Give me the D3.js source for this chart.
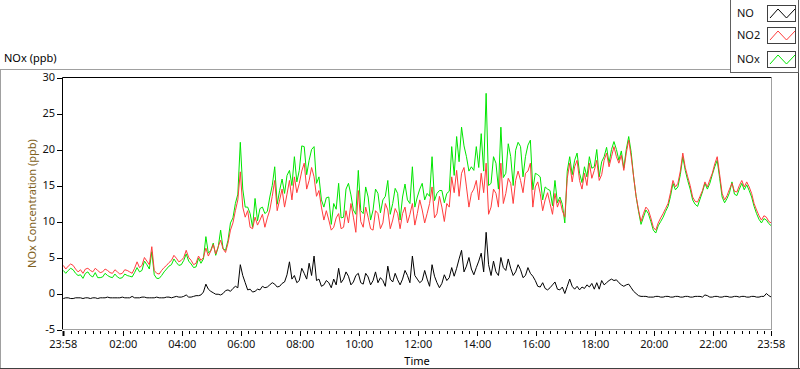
<!DOCTYPE html>
<html>
<head>
<meta charset="utf-8">
<script src="https://cdn.jsdelivr.net/npm/d3@7"></script>
<style>
  body { margin: 0; background: #fff; }
  svg { display: block; font-family: "Noto Sans", sans-serif; font-size: 11px; }
</style>
</head>
<body>
<div id="chart"></div>
<script>
// readings every 10 minutes from 23:58, plus the mid-interval readings (at +5 min)
const stepMinutes = 10;
const seriesNames = ["NO", "NO2", "NOx"];
const seriesColors = ["#000000", "#ff3c3c", "#00e600"];

const no = [
  -0.7, -0.6, -0.7, -0.6, -0.7, -0.6, -0.6, -0.7, -0.6, -0.5,
  -0.6, -0.6, -0.5, -0.6, -0.4, -0.6, -0.5, -0.6, -0.6, -0.5,
  -0.6, -0.5, -0.6, -0.4, -0.5, -0.2, -0.5, -0.3, -0.2, 1.3,
  0.3, -0.1, -0.2, 0.4, 0.3, 1.0, 4.0, 1.5, 0.6, 0.3,
  0.5, 0.8, 1.2, 1.3, 1.0, 1.6, 4.4, 2.5, 1.8, 2.8,
  4.2, 5.2, 2.0, 1.2, 1.5, 2.0, 3.5, 2.0, 2.4, 1.6,
  2.8, 1.3, 2.3, 1.8, 1.5, 1.8, 3.8, 1.6, 1.9, 2.0,
  2.5, 5.2, 2.0, 1.8, 2.0, 4.0, 1.5, 1.4, 1.8, 3.6,
  3.5, 6.0, 3.8, 3.4, 3.6, 5.6, 8.5, 2.5, 3.0, 5.0,
  3.2, 3.5, 3.0, 3.3, 2.5, 2.8, 1.8, 0.9, 0.7, 0.8,
  1.6, 0.5, 0.0, 2.0, 0.6, 0.5, 0.7, 0.9, 0.6, 0.6,
  1.2, 1.8, 1.8, 1.5, 1.0, 1.3, 0.3, -0.3, -0.4, -0.5,
  -0.5, -0.4, -0.5, -0.4, -0.5, -0.4, -0.5, -0.4, -0.5, -0.4,
  -0.5, -0.3, -0.5, -0.4, -0.5, -0.4, -0.5, -0.4, -0.4, -0.5,
  -0.4, -0.5, -0.4, 0.0, -0.5
];
const noMid = [
  -0.6, -0.7, -0.6, -0.6, -0.6, -0.7, -0.6, -0.6, -0.6, -0.6,
  -0.6, -0.6, -0.6, -0.6, -0.6, -0.6, -0.5, -0.6, -0.6, -0.6,
  -0.6, -0.5, -0.5, -0.5, -0.4, -0.5, -0.4, -0.3, 0.2, 0.6,
  0.1, -0.1, 0.0, 0.5, 0.7, 0.8, 2.5, 0.5, 0.2, 0.6,
  1.0, 0.9, 1.5, 0.9, 1.4, 2.6, 2.0, 1.5, 3.5, 2.0,
  2.5, 1.8, 1.0, 1.8, 0.8, 1.2, 1.5, 3.0, 1.2, 2.5,
  1.5, 2.8, 1.2, 3.0, 2.2, 1.0, 2.0, 2.8, 1.2, 3.2,
  1.5, 2.5, 1.5, 3.2, 1.0, 2.4, 0.8, 2.6, 2.2, 2.4,
  4.8, 3.0, 5.0, 2.6, 4.5, 3.0, 4.0, 4.5, 2.5, 3.6,
  4.8, 2.5, 4.0, 2.2, 3.6, 2.4, 1.0, 1.5, 0.5, 1.2,
  0.6, 0.9, 1.0, 1.0, 1.0, 0.9, 1.2, 1.4, 1.5, 1.8,
  1.5, 2.0, 1.9, 1.2, 1.2, 0.8, 0.0, -0.4, -0.4, -0.5,
  -0.4, -0.5, -0.4, -0.5, -0.4, -0.5, -0.4, -0.5, -0.4, -0.4,
  -0.2, -0.5, -0.4, -0.5, -0.4, -0.5, -0.4, -0.5, -0.4, -0.5,
  -0.4, -0.5, -0.4, -0.3
];

const no2 = [
  3.9, 3.8, 3.9, 3.0, 2.8, 3.5, 3.0, 3.2, 3.0, 3.2,
  2.8, 3.0, 2.8, 3.2, 2.8, 4.4, 3.9, 4.5, 6.5, 2.8,
  3.2, 3.9, 4.6, 4.9, 4.6, 6.0, 4.6, 4.2, 4.6, 6.3,
  5.9, 5.5, 7.4, 5.7, 8.8, 11.5, 16.9, 10.6, 9.2, 10.6,
  10.2, 9.2, 11.6, 15.7, 13.0, 12.0, 15.7, 16.2, 15.3, 18.1,
  15.7, 16.2, 14.3, 10.2, 10.2, 9.2, 11.1, 9.2, 9.8, 10.6,
  14.3, 9.2, 10.6, 8.8, 11.1, 9.8, 11.6, 10.2, 11.1, 11.1,
  9.8, 12.5, 11.1, 11.6, 11.1, 14.8, 11.1, 12.0, 12.5, 16.2,
  17.1, 16.7, 14.8, 13.9, 15.7, 16.7, 18.1, 12.0, 13.9, 18.1,
  13.9, 15.3, 15.7, 15.7, 16.7, 18.1, 14.8, 13.9, 13.0, 12.5,
  13.9, 13.0, 10.6, 18.1, 17.6, 15.7, 16.7, 18.1, 17.1, 15.7,
  18.5, 17.6, 20.4, 18.1, 17.1, 21.3, 16.2, 11.6, 11.1, 11.6,
  9.2, 9.8, 11.1, 12.5, 15.7, 15.3, 19.5, 16.2, 13.4, 12.7,
  14.3, 14.8, 16.7, 19.0, 13.9, 13.6, 15.3, 14.1, 15.7, 15.5,
  13.9, 11.6, 10.2, 10.6, 9.8
];
const no2Mid = [
  3.4, 4.1, 3.4, 3.3, 3.4, 3.2, 3.5, 2.9, 3.4, 2.9,
  3.3, 2.7, 3.3, 3.0, 3.5, 3.6, 5.0, 4.0, 3.2, 2.7,
  3.6, 4.3, 5.3, 4.4, 5.0, 5.0, 4.0, 5.2, 5.0, 5.2,
  6.8, 6.5, 6.2, 7.0, 9.8, 13.0, 12.0, 11.5, 9.0, 9.5,
  11.0, 10.5, 13.5, 11.5, 14.5, 13.8, 13.0, 14.0, 17.0, 14.5,
  17.5, 13.5, 12.0, 11.5, 8.8, 10.5, 9.0, 11.5, 12.5, 8.5,
  10.0, 12.0, 9.0, 11.5, 9.0, 12.5, 9.0, 11.8, 9.0, 12.0,
  11.0, 9.5, 13.0, 9.8, 12.5, 10.5, 13.5, 10.0, 12.0, 14.0,
  13.5, 17.5, 12.0, 14.5, 13.0, 14.0, 11.0, 14.5, 12.0, 12.5,
  16.0, 12.5, 17.0, 14.0, 17.0, 12.0, 15.5, 11.5, 14.0, 11.0,
  12.0, 11.5, 16.0, 15.5, 18.5, 14.5, 15.0, 16.0, 18.5, 16.5,
  19.5, 19.0, 19.0, 19.2, 19.5, 19.0, 13.5, 10.0, 12.0, 10.5,
  8.8, 10.5, 11.8, 14.0, 14.8, 17.0, 17.5, 15.0, 12.8, 13.5,
  15.5, 15.8, 18.0, 16.5, 13.0, 14.5, 14.2, 15.0, 14.8, 14.8,
  12.5, 10.8, 10.8, 10.0
];

const nox = [
  3.2, 3.2, 3.3, 2.5, 2.1, 3.0, 2.3, 2.2, 2.3, 2.5,
  2.2, 2.3, 2.2, 2.5, 2.3, 3.6, 3.2, 4.0, 5.8, 2.1,
  2.5, 3.4, 4.0, 4.3, 4.0, 5.5, 4.1, 3.7, 4.2, 7.9,
  6.0, 5.3, 8.8, 6.0, 9.8, 12.5, 21.0, 12.0, 11.1, 13.2,
  11.8, 11.1, 13.4, 17.6, 14.3, 13.9, 17.1, 19.0, 17.1, 20.4,
  18.5, 20.4, 16.2, 12.0, 13.4, 12.5, 15.3, 10.6, 15.3, 11.6,
  17.1, 11.1, 13.4, 11.6, 13.9, 13.0, 15.7, 12.5, 13.9, 13.4,
  13.0, 17.6, 13.4, 15.3, 13.9, 19.0, 13.9, 14.3, 13.9, 20.4,
  21.8, 23.1, 19.0, 17.6, 20.4, 22.2, 27.8, 15.3, 18.1, 23.1,
  16.7, 19.0, 19.9, 20.4, 19.0, 21.3, 16.7, 16.2, 14.8, 14.3,
  15.7, 13.4, 9.8, 19.0, 18.5, 16.7, 17.6, 19.0, 17.6, 16.2,
  19.0, 18.1, 21.1, 18.5, 17.4, 21.8, 16.2, 11.4, 10.6, 11.1,
  8.8, 9.4, 10.6, 12.1, 15.3, 14.8, 19.0, 15.7, 13.0, 12.1,
  14.1, 14.5, 16.5, 18.5, 13.4, 13.2, 15.5, 13.6, 15.3, 15.1,
  13.4, 11.1, 9.8, 10.2, 9.4
];
const noxMid = [
  2.8, 3.5, 2.8, 2.6, 2.8, 2.5, 2.9, 2.2, 2.8, 2.3,
  2.7, 2.1, 2.7, 2.4, 2.9, 3.0, 4.5, 3.4, 2.6, 2.1,
  3.0, 3.8, 4.8, 3.9, 4.6, 4.5, 3.6, 4.9, 4.8, 5.6,
  7.0, 6.4, 6.2, 7.4, 10.5, 13.8, 14.5, 12.0, 9.2, 10.1,
  12.0, 11.4, 15.0, 12.4, 15.9, 16.4, 15.0, 15.5, 20.5, 16.5,
  20.0, 15.3, 13.0, 13.3, 9.6, 11.7, 10.5, 14.5, 13.7, 11.0,
  11.5, 14.8, 10.2, 14.5, 11.2, 13.5, 11.0, 14.6, 10.2, 15.2,
  12.5, 12.0, 14.5, 13.0, 13.5, 12.9, 14.3, 12.6, 14.2, 16.4,
  18.3, 20.5, 17.0, 17.1, 17.5, 17.0, 15.0, 19.0, 14.5, 16.1,
  20.8, 15.0, 21.0, 16.2, 20.6, 14.4, 16.5, 13.0, 14.5, 12.2,
  12.6, 12.4, 17.0, 16.5, 19.5, 15.4, 16.2, 17.4, 20.0, 18.3,
  20.3, 20.0, 20.0, 19.8, 20.0, 19.6, 13.5, 9.6, 11.6, 10.0,
  8.4, 10.0, 11.4, 13.5, 14.4, 16.5, 17.1, 14.5, 12.4, 13.1,
  15.3, 15.3, 17.6, 16.0, 12.6, 14.0, 13.8, 14.5, 14.4, 14.3,
  12.1, 10.3, 10.4, 9.7
];

const yTicks = [30, 25, 20, 15, 10, 5, 0, -5];
const xTickLabels = ["23:58", "02:00", "04:00", "06:00", "08:00", "10:00", "12:00",
  "14:00", "16:00", "18:00", "20:00", "22:00", "23:58"];

const W = 800, H = 369;
const plot = { left: 62.5, top: 77.5, right: 771.5, bottom: 329.5 };

const svg = d3.select("#chart").append("svg")
  .attr("width", W)
  .attr("height", H);

const start = new Date(2000, 0, 1, 23, 58);
const end = d3.timeMinute.offset(start, 24 * 60);

const x = d3.scaleTime()
  .domain([start, end])
  .range([63.3, 771.3]);

const y = d3.scaleLinear()
  .domain([-5, 30])
  .range([plot.bottom, plot.top]);

// outer panel frame
svg.append("line").attr("x1", 0).attr("x2", 731).attr("y1", 69.5).attr("y2", 69.5).attr("stroke", "#a0a0a0");
svg.append("line").attr("x1", 0.5).attr("x2", 0.5).attr("y1", 69).attr("y2", H).attr("stroke", "#a0a0a0");
svg.append("line").attr("x1", 0).attr("x2", W).attr("y1", 368.5).attr("y2", 368.5).attr("stroke", "#404040");
svg.append("line").attr("x1", 798.5).attr("x2", 798.5).attr("y1", 72).attr("y2", H).attr("stroke", "#404040");

svg.append("text")
  .attr("x", 4)
  .attr("y", 58)
  .attr("dy", "0.35em")
  .text("NOx (ppb)");

// plot area
svg.append("rect")
  .attr("x", plot.left)
  .attr("y", plot.top)
  .attr("width", plot.right - plot.left)
  .attr("height", plot.bottom - plot.top)
  .attr("fill", "#fff");

svg.append("clipPath").attr("id", "clip")
  .append("rect")
  .attr("x", plot.left + 0.5)
  .attr("y", plot.top + 0.5)
  .attr("width", plot.right - plot.left - 1)
  .attr("height", plot.bottom - plot.top - 1);

// interleave the on-the-10-minute and mid-interval readings
const merged = (main, mid) => main.flatMap((v, i) =>
  i < mid.length ? [[i * stepMinutes, v], [i * stepMinutes + stepMinutes / 2, mid[i]]] : [[i * stepMinutes, v]]);

const line = d3.line()
  .x(d => x(d3.timeMinute.offset(start, d[0])))
  .y(d => y(d[1]));

const lines = svg.append("g").attr("clip-path", "url(#clip)");
[[nox, noxMid, 2], [no2, no2Mid, 1], [no, noMid, 0]].forEach(([vals, mids, k]) => {
  lines.append("path")
    .datum(merged(vals, mids))
    .attr("fill", "none")
    .attr("stroke", seriesColors[k])
    .attr("stroke-width", 1)
    .attr("d", line);
});

// borders: dark top/left, grey bottom/right
svg.append("line").attr("x1", plot.left).attr("x2", plot.right).attr("y1", plot.top).attr("y2", plot.top).attr("stroke", "#000");
svg.append("line").attr("x1", plot.left).attr("x2", plot.left).attr("y1", plot.top).attr("y2", plot.bottom).attr("stroke", "#000");
svg.append("line").attr("x1", plot.right).attr("x2", plot.right).attr("y1", plot.top).attr("y2", plot.bottom + 0.5).attr("stroke", "#a0a0a0");
svg.append("line").attr("x1", plot.left).attr("x2", plot.right).attr("y1", plot.bottom).attr("y2", plot.bottom).attr("stroke", "#a0a0a0");

// y axis
const yAxis = svg.append("g");
yAxis.selectAll("line")
  .data(yTicks)
  .join("line")
  .attr("x1", 57)
  .attr("x2", 62)
  .attr("y1", d => Math.round(y(d)) + 0.5)
  .attr("y2", d => Math.round(y(d)) + 0.5)
  .attr("stroke", "#000");
yAxis.selectAll("text")
  .data(yTicks)
  .join("text")
  .attr("x", 55)
  .attr("y", d => y(d))
  .attr("dy", "0.35em")
  .attr("text-anchor", "end")
  .attr("fill", "#111")
  .text(d => d);

svg.append("text")
  .attr("transform", "translate(32," + ((plot.top + plot.bottom) / 2) + ") rotate(-90)")
  .attr("dy", "0.35em")
  .attr("text-anchor", "middle")
  .attr("fill", "#806020")
  .text("NOx Concentration (ppb)");

// x axis
const tickTime = lab => {
  const [hh, mm] = lab.split(":").map(Number);
  return (hh * 60 + mm - (23 * 60 + 58) + 1440) % 1440;
};
const majors = xTickLabels.map((lab, i) => i === xTickLabels.length - 1 ? 1440 : tickTime(lab));
const minors = d3.range(15, 1440, 15)
  .filter(m => majors.every(M => Math.abs(M - m) > 4));

const xAxis = svg.append("g");
xAxis.selectAll("line.minor")
  .data(minors)
  .join("line")
  .attr("class", "minor")
  .attr("x1", d => Math.round(x(d3.timeMinute.offset(start, d))) + 0.5)
  .attr("x2", d => Math.round(x(d3.timeMinute.offset(start, d))) + 0.5)
  .attr("y1", 331)
  .attr("y2", 334)
  .attr("stroke", "#000");
xAxis.selectAll("line.major")
  .data(majors)
  .join("line")
  .attr("class", "major")
  .attr("x1", d => Math.round(x(d3.timeMinute.offset(start, d))) + 0.5)
  .attr("x2", d => Math.round(x(d3.timeMinute.offset(start, d))) + 0.5)
  .attr("y1", 331)
  .attr("y2", 336)
  .attr("stroke", "#000")
  .attr("stroke-width", (d, i) => i === 0 ? 2 : 1);
xAxis.selectAll("text")
  .data(xTickLabels)
  .join("text")
  .attr("x", (d, i) => x(d3.timeMinute.offset(start, majors[i])))
  .attr("y", 344)
  .attr("dy", "0.35em")
  .attr("text-anchor", "middle")
  .attr("fill", "#111")
  .text(d => d);

svg.append("text")
  .attr("x", (plot.left + plot.right) / 2)
  .attr("y", 361)
  .attr("dy", "0.35em")
  .attr("text-anchor", "middle")
  .text("Time");

// legend
const legend = svg.append("g");
legend.append("rect")
  .attr("x", 730.5).attr("y", -1)
  .attr("width", 68).attr("height", 73.5)
  .attr("fill", "#fff").attr("stroke", "#606060");
const swatchY = [5, 27, 51];
const textY = [13.5, 35, 59.5];
seriesNames.forEach((name, k) => {
  legend.append("text")
    .attr("x", 737)
    .attr("y", textY[k])
    .attr("dy", "0.35em")
    .attr("fill", "#111")
    .text(name);
  legend.append("rect")
    .attr("x", 767.5).attr("y", swatchY[k] + 0.5)
    .attr("width", 28).attr("height", 16)
    .attr("fill", "#fff").attr("stroke", "#404040");
  const sy = swatchY[k];
  legend.append("polyline")
    .attr("points", [[770, sy + 13], [778, sy + 4], [786.5, sy + 13], [795, sy + 4]].join(" "))
    .attr("fill", "none")
    .attr("stroke", seriesColors[k]);
});
</script>
</body>
</html>
